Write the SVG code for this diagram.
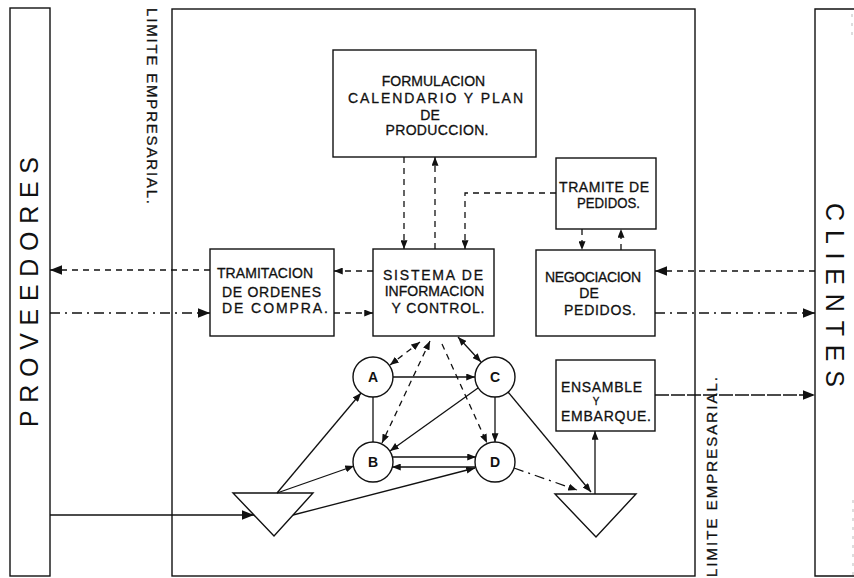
<svg xmlns="http://www.w3.org/2000/svg" width="854" height="578" viewBox="0 0 854 578">
<style>
.bx{fill:none;stroke:#111;stroke-width:1.4}
.ln{fill:none;stroke:#111;stroke-width:1.3}
.d{stroke-dasharray:6 5}
.dd{stroke-dasharray:10 5 2 5}
.t{font-family:"Liberation Sans",Arial,sans-serif;font-size:14px;fill:#111;stroke:#111;stroke-width:0.3;text-anchor:middle}
.c{font-family:"Liberation Sans",Arial,sans-serif;font-size:14px;font-weight:bold;fill:#111;text-anchor:middle}
.side{font-family:"Liberation Sans",Arial,sans-serif;font-size:25px;fill:#111;text-anchor:middle}
.lim{font-family:"Liberation Sans",Arial,sans-serif;font-size:15px;fill:#111;stroke:#111;stroke-width:0.3;text-anchor:middle}
</style>
<defs>
<marker id="a" viewBox="0 0 10 8" refX="10" refY="4" markerWidth="9" markerHeight="7" markerUnits="userSpaceOnUse" orient="auto-start-reverse"><path d="M0,0L10,4L0,8z" fill="#111"/></marker>
<marker id="b" viewBox="0 0 10 8" refX="10" refY="4" markerWidth="12" markerHeight="10" markerUnits="userSpaceOnUse" orient="auto-start-reverse"><path d="M0,0L10,4L0,8z" fill="#111"/></marker>
</defs>
<rect width="854" height="578" fill="#fff"/>

<g id="proveedores">
<rect class="bx" x="10" y="8" width="40" height="568"/>
<text class="side" transform="translate(38,292) rotate(-90)" textLength="270" lengthAdjust="spacing">PROVEEDORES</text>
</g>
<g id="limite-empresarial">
<rect class="bx" x="172" y="9" width="523" height="567"/>
<text class="lim" transform="translate(147,106) rotate(90)" textLength="196" lengthAdjust="spacing">LIMITE  EMPRESARIAL.</text>
<text class="lim" transform="translate(717,477) rotate(-90)" textLength="200" lengthAdjust="spacing">LIMITE  EMPRESARIAL.</text>
</g>
<g id="clientes">
<path class="bx" d="M854,9H815V576H854"/>
<path d="M852,14V40M853,500V576" fill="none" stroke="#bbb" stroke-width="1" stroke-dasharray="3 6"/>
<text class="side" transform="translate(826,295) rotate(90)" textLength="184" lengthAdjust="spacing">CLIENTES</text>
</g>

<g id="formulacion">
<rect class="bx" x="333" y="50" width="203" height="107"/>
<text class="t" x="433.5" y="86">FORMULACION</text>
<text class="t" x="435.5" y="103" textLength="175" lengthAdjust="spacing">CALENDARIO  Y  PLAN</text>
<text class="t" x="430" y="120">DE</text>
<text class="t" x="437" y="135" textLength="103" lengthAdjust="spacing">PRODUCCION.</text>
</g>
<g id="tramite">
<rect class="bx" x="556" y="158" width="100" height="71"/>
<text class="t" x="604" y="192" textLength="90" lengthAdjust="spacing">TRAMITE  DE</text>
<text class="t" x="608.5" y="208" textLength="63" lengthAdjust="spacingAndGlyphs">PEDIDOS.</text>
</g>
<g id="sistema">
<rect class="bx" x="373" y="249" width="121" height="87"/>
<text class="t" x="433" y="280" textLength="100" lengthAdjust="spacing">SISTEMA  DE</text>
<text class="t" x="434.5" y="296">INFORMACION</text>
<text class="t" x="438" y="313" textLength="93" lengthAdjust="spacing">Y  CONTROL.</text>
</g>
<g id="tramitacion">
<rect class="bx" x="210" y="249" width="124" height="87"/>
<text class="t" x="217" y="278" style="text-anchor:start" textLength="96" lengthAdjust="spacing">TRAMITACION</text>
<text class="t" x="222" y="297" style="text-anchor:start" textLength="99" lengthAdjust="spacing">DE  ORDENES</text>
<text class="t" x="222" y="313" style="text-anchor:start" textLength="106" lengthAdjust="spacing">DE  COMPRA.</text>
</g>
<g id="negociacion">
<rect class="bx" x="536" y="250" width="119" height="86"/>
<text class="t" x="593" y="282" textLength="96" lengthAdjust="spacing">NEGOCIACION</text>
<text class="t" x="589" y="298">DE</text>
<text class="t" x="600" y="315" textLength="72" lengthAdjust="spacing">PEDIDOS.</text>
</g>
<g id="ensamble">
<rect class="bx" x="556" y="360" width="99" height="71"/>
<text class="t" x="601.5" y="392" textLength="81" lengthAdjust="spacing">ENSAMBLE</text>
<text class="t" x="596" y="405" style="font-size:10px">Y</text>
<text class="t" x="606" y="421" textLength="90" lengthAdjust="spacing">EMBARQUE.</text>
</g>
<g id="A"><circle class="bx" cx="373" cy="377" r="20"/><text class="c" x="373" y="382">A</text></g>
<g id="B"><circle class="bx" cx="373" cy="462" r="20"/><text class="c" x="373" y="467">B</text></g>
<g id="C"><circle class="bx" cx="495" cy="377" r="20"/><text class="c" x="495" y="382">C</text></g>
<g id="D"><circle class="bx" cx="495" cy="462" r="20"/><text class="c" x="495" y="467">D</text></g>
<g id="almacen-entrada"><polygon class="bx" points="233,493 313,493 274,536"/></g>
<g id="almacen-salida"><polygon class="bx" points="555,494 636,494 596,537"/></g>

<g id="connectors">
<path class="ln d" d="M210,270H50" marker-end="url(#b)"/>
<path class="ln dd" d="M50,313H210" marker-end="url(#b)"/>
<path class="ln d" d="M373,271H334" marker-end="url(#a)"/>
<path class="ln d" d="M334,313H373" marker-end="url(#a)"/>
<path class="ln d" d="M404,157V249" marker-end="url(#a)"/>
<path class="ln d" d="M435,249V157" marker-end="url(#a)"/>
<path class="ln d" d="M556,193H465V249" marker-end="url(#a)"/>
<path class="ln d" d="M582,229V250" marker-end="url(#a)"/>
<path class="ln d" d="M621,250V229" marker-end="url(#a)"/>
<path class="ln d" d="M815,271H655" marker-end="url(#b)"/>
<path class="ln dd" d="M655,313H815" marker-end="url(#b)"/>
<path class="ln" style="stroke-dasharray:14 2" d="M655,395H815" marker-end="url(#b)"/>
<path class="ln" d="M50,515H254" marker-end="url(#b)"/>
<path class="ln" d="M277,493L361,393" marker-end="url(#a)"/>
<path class="ln" d="M277,493L354,466" marker-end="url(#a)"/>
<path class="ln" d="M293,515L475,468" marker-end="url(#a)"/>
<path class="ln" d="M393,377H475" marker-end="url(#a)"/>
<path class="ln" d="M373,397V442"/>
<path class="ln" d="M478,388L390,451" marker-end="url(#a)"/>
<path class="ln" d="M495,397V442" marker-end="url(#a)"/>
<path class="ln" d="M392,457H476" marker-end="url(#a)"/>
<path class="ln" d="M476,467H392" marker-end="url(#a)"/>
<path class="ln" d="M508,392L591,492" marker-end="url(#a)"/>
<path class="ln dd" d="M514,468L577,490" marker-end="url(#a)"/>
<path class="ln" d="M595,494V431" marker-end="url(#a)"/>
<path class="ln d" d="M420,342L390,365" marker-start="url(#a)" marker-end="url(#a)"/>
<path class="ln d" d="M430,341L382,443" marker-start="url(#a)" marker-end="url(#a)"/>
<path class="ln d" d="M442,344L487,443" marker-end="url(#a)"/>
<path class="ln" d="M458,337L481,362" marker-start="url(#a)" marker-end="url(#a)"/>
</g>
</svg>
